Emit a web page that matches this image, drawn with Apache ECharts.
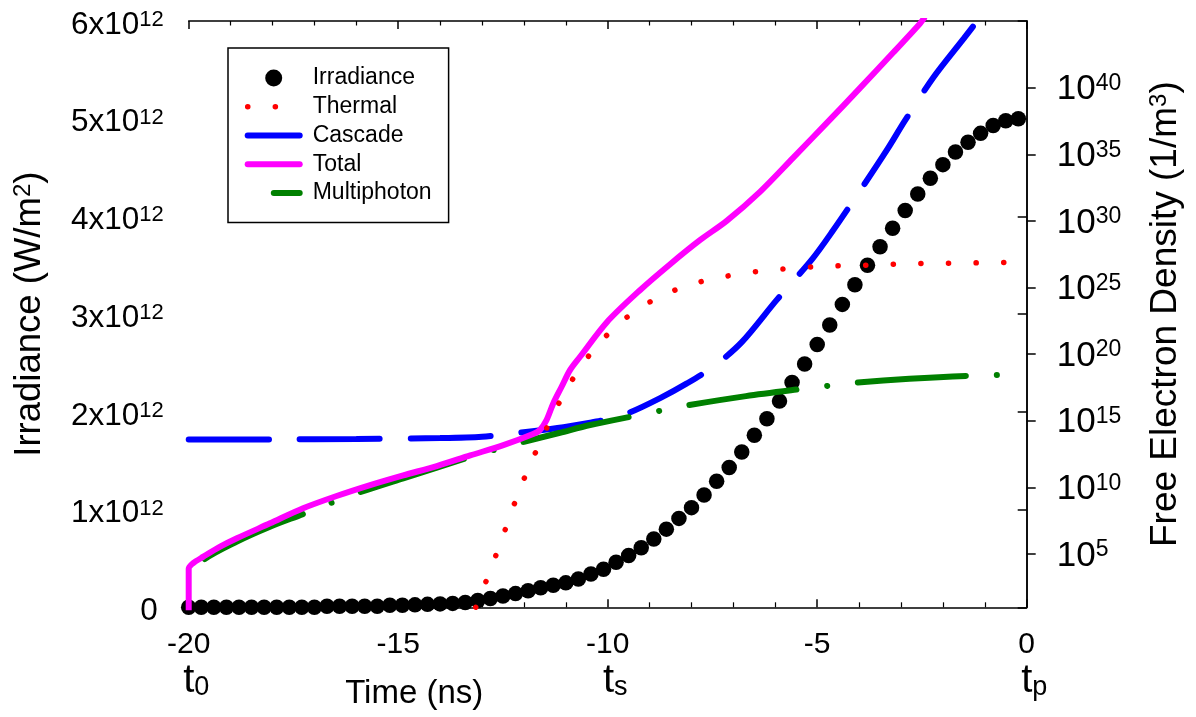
<!DOCTYPE html>
<html>
<head>
<meta charset="utf-8">
<script src="https://cdn.jsdelivr.net/npm/echarts@6/dist/echarts.min.js"></script>
<style>
  html, body { margin: 0; padding: 0; background: #fff; }
  #chart { width: 1196px; height: 717px; }
</style>
</head>
<body>
<div id="chart"></div>
<script>
// Series legend order
const seriesNames = ['Irradiance', 'Thermal', 'Cascade', 'Total', 'Multiphoton'];

// Irradiance samples in units of 10^12 W/m^2, taken every 0.3 ns from -20 ns
const irradianceStart = -20;
const irradianceStep = 0.3;
const irradiance = [
  0.00, 0.00, 0.00, 0.00, 0.00, 0.00, 0.00, 0.00, 0.00, 0.00,
  0.00, 0.01, 0.01, 0.01, 0.01, 0.01, 0.02, 0.02, 0.025, 0.03,
  0.035, 0.04, 0.05, 0.07, 0.09, 0.115, 0.14, 0.17, 0.20, 0.225,
  0.25, 0.29, 0.34, 0.39, 0.46, 0.53, 0.61, 0.70, 0.80, 0.91,
  1.02, 1.15, 1.29, 1.43, 1.59, 1.76, 1.93, 2.11, 2.30, 2.49,
  2.69, 2.89, 3.10, 3.30, 3.50, 3.69, 3.88, 4.06, 4.23, 4.39,
  4.53, 4.66, 4.76, 4.85, 4.93, 4.98, 5.00
];

// Free electron density curves: [time (ns), log10 of density in 1/m^3]
const thermal = [
  [-13.15, 1.0], [-12.86, 3.3], [-12.61, 5.4], [-12.37, 7.5], [-12.13, 9.6],
  [-11.86, 11.65], [-11.55, 13.8], [-11.25, 15.8], [-10.88, 17.9], [-10.42, 20.0],
  [-9.80, 22.1], [-9.14, 23.65], [-8.48, 24.7], [-7.82, 25.4], [-7.16, 25.85],
  [-6.49, 26.18], [-5.83, 26.38], [-5.16, 26.53], [-4.50, 26.63], [-3.83, 26.68],
  [-3.17, 26.75], [-2.51, 26.8], [-1.85, 26.82], [-1.18, 26.85], [-0.52, 26.88], [0, 26.9]
];
const cascade = [
  [-20, 13.6], [-18, 13.6], [-16, 13.63], [-14, 13.7], [-13, 13.8], [-12.1, 14.1],
  [-11.2, 14.45], [-10.42, 14.85], [-10.1, 15.05], [-9.47, 15.63], [-8.76, 16.68],
  [-8.11, 17.8], [-7.46, 19.1], [-6.8, 20.9], [-5.97, 24.05], [-5.12, 27.13],
  [-4.64, 29.2], [-3.97, 32.3], [-3.32, 35.4], [-2.91, 37.5], [-2.22, 40.8],
  [-1.5, 43.7], [-1.18, 45.0]
];
const total = [
  [-20, 0], [-20, 3.9], [-19.9, 4.3], [-19.65, 4.8], [-19.25, 5.55], [-18.85, 6.18],
  [-18.06, 7.3], [-17.27, 8.43], [-16.47, 9.35], [-15.67, 10.17], [-14.88, 10.9],
  [-14.08, 11.6], [-13.28, 12.4], [-12.49, 13.17], [-11.78, 14.0], [-11.62, 14.3],
  [-11.46, 15.05], [-11.3, 16.3], [-11.1, 17.55], [-10.9, 18.8], [-10.66, 19.8],
  [-10.02, 22.4], [-9.23, 24.8], [-8.51, 26.75], [-7.8, 28.55], [-7.16, 30.0],
  [-6.36, 32.2], [-5.57, 34.75], [-4.77, 37.35], [-3.97, 40.0], [-3.18, 42.65], [-2.55, 44.8],
  [-2.45, 45.2]
];
const multiphoton = [
  [-20, 3.1], [-19.93, 3.42], [-19.65, 4.55], [-18.86, 5.92], [-18.06, 7.05],
  [-17.27, 8.0], [-16.63, 8.8], [-15.99, 9.55], [-14.88, 10.68], [-13.31, 12.25],
  [-12.67, 12.85], [-12.0, 13.42], [-11.14, 14.1], [-10.42, 14.68], [-9.35, 15.37],
  [-8.70, 15.78], [-8.05, 16.18], [-6.7, 16.85], [-5.39, 17.38], [-4.74, 17.62],
  [-4.09, 17.85], [-2.8, 18.15], [-1.43, 18.37], [0, 18.48]
];

// Axis ticks
const timeMarkers = { '-20': '0', '-10': 's', '0': 'p' };   // t0, ts, tp under the time ticks
const densityExponents = [5, 10, 15, 20, 25, 30, 35, 40];

const FONT = '"Liberation Sans", Arial, Helvetica, sans-serif';
const AXIS_COLOR = '#000';

const irradiancePoints = irradiance.map((v, i) =>
  [+(irradianceStart + i * irradianceStep).toFixed(1), v]);

const chart = echarts.init(document.getElementById('chart'), null, { renderer: 'canvas' });

const frameLine = { show: true, lineStyle: { color: AXIS_COLOR, width: 1.5 } };
const txt = extra => Object.assign({ fontFamily: FONT, color: '#000' }, extra);

// line series show only their stroke in the legend
const legendData = seriesNames.map(name =>
  name === 'Irradiance' ? { name } : { name, itemStyle: { opacity: 0 } });

chart.setOption({
  backgroundColor: '#fff',
  animation: false,
  textStyle: { fontFamily: FONT, color: '#000' },
  grid: {
    left: 188.7, right: 169.3, top: 21, bottom: 109.7,
    containLabel: false, outerBoundsMode: 'none'
  },
  legend: {
    data: legendData,
    orient: 'vertical',
    left: 228, top: 48,
    padding: [18.5, 17, 18, 16.7],
    itemWidth: 52, itemHeight: 17, itemGap: 5.75,
    borderColor: '#000', borderWidth: 1.5, backgroundColor: '#fff',
    selectedMode: false,
    lineStyle: { width: 'inherit' },
    textStyle: txt({ fontSize: 23, lineHeight: 23, padding: [0, 0, 0, 8] })
  },
  xAxis: [
    {
      type: 'value', position: 'bottom', min: -20, max: 0, interval: 5,
      axisLine: frameLine,
      axisTick: { show: true, inside: true, length: 8, lineStyle: { color: AXIS_COLOR, width: 1.5 } },
      minorTick: { show: true, splitNumber: 5, length: 5, lineStyle: { color: AXIS_COLOR, width: 1.2 } },
      splitLine: { show: false },
      axisLabel: {
        margin: 20,
        color: '#000', fontFamily: FONT,
        formatter: v => {
          const sub = timeMarkers[String(v)];
          let s = '{v|' + v + '}';
          if (sub !== undefined) s += '\n{sp|}{t|t}{sub|' + sub + '}';
          return s;
        },
        rich: {
          v: txt({ fontSize: 30, lineHeight: 34 }),
          sp: { width: 15 },
          t: txt({ fontSize: 40, lineHeight: 40, verticalAlign: 'top' }),
          sub: txt({ fontSize: 27, lineHeight: 27, padding: [21, 0, 0, 0], verticalAlign: 'bottom' })
        }
      },
      name: 'Time (ns)',
      nameLocation: 'middle',
      nameGap: 70,
      nameMoveOverlap: false,
      nameTextStyle: txt({ fontSize: 33, padding: [0, 387, 0, 0] })
    },
    {
      type: 'value', position: 'top', min: -20, max: 0, interval: 5,
      axisLine: frameLine,
      axisTick: { show: true, inside: true, length: 8, lineStyle: { color: AXIS_COLOR, width: 1.5 } },
      minorTick: { show: true, splitNumber: 5, length: 4.5, lineStyle: { color: AXIS_COLOR, width: 1.2 } },
      splitLine: { show: false },
      axisLabel: { show: false }
    }
  ],
  yAxis: [
    {
      type: 'value', position: 'left', min: 0, max: 6, interval: 1,
      axisLine: frameLine,
      axisTick: { show: true, inside: false, length: 9, lineStyle: { color: AXIS_COLOR, width: 1.5 } },
      splitLine: { show: false },
      axisLabel: {
        margin: 25,
        padding: [8, 0, 0, 0],
        formatter: v => v === 0 ? '{z|0}' : '{b|' + v + 'x10}{s|12}',
        rich: {
          z: txt({ fontSize: 31.5, lineHeight: 32, padding: [0, 6, 0, 0] }),
          b: txt({ fontSize: 31.5, lineHeight: 32 }),
          s: txt({ fontSize: 22, lineHeight: 20, verticalAlign: 'top' })
        }
      },
      name: 'Irradiance (W/m{s|2})',
      nameLocation: 'middle',
      nameGap: 140,
      nameMoveOverlap: false,
      nameTextStyle: txt({
        fontSize: 36.5,
        rich: { s: txt({ fontSize: 24, lineHeight: 24, verticalAlign: 'top' }) }
      })
    },
    {
      type: 'value', position: 'right', min: 1, max: 45,
      axisLine: frameLine,
      axisTick: { show: true, inside: false, length: 9, customValues: densityExponents,
                  lineStyle: { color: AXIS_COLOR, width: 1.5 } },
      splitLine: { show: false },
      axisLabel: {
        margin: 30,
        padding: [4, 0, 0, 0],
        customValues: densityExponents,
        formatter: v => '{b|10}{s|' + v + '}',
        rich: {
          b: txt({ fontSize: 35, lineHeight: 35 }),
          s: txt({ fontSize: 23, lineHeight: 23, verticalAlign: 'top' })
        }
      },
      name: 'Free Electron Density (1/m{s|3})',
      nameLocation: 'middle',
      nameGap: 121,
      nameMoveOverlap: false,
      nameTextStyle: txt({
        fontSize: 37,
        rich: { s: txt({ fontSize: 24, lineHeight: 24, verticalAlign: 'top' }) }
      })
    }
  ],
  series: [
    {
      name: 'Irradiance', type: 'scatter', xAxisIndex: 0, yAxisIndex: 0,
      data: irradiancePoints, symbol: 'circle', symbolSize: 15.5,
      itemStyle: { color: '#000', opacity: 1 }, z: 2
    },
    {
      name: 'Thermal', type: 'line', xAxisIndex: 0, yAxisIndex: 1,
      data: thermal, symbol: 'none', smooth: 0.3, clip: true,
      lineStyle: { color: '#ff0000', width: 5.5, type: [0.1, 27.5], cap: 'round' },
      itemStyle: { color: '#ff0000' }, z: 6
    },
    {
      name: 'Cascade', type: 'line', xAxisIndex: 0, yAxisIndex: 1,
      data: cascade, symbol: 'none', smooth: 0.3, clip: true,
      lineStyle: { color: '#0000ff', width: 6, type: [80, 31], cap: 'round' },
      itemStyle: { color: '#0000ff' }, z: 3
    },
    {
      name: 'Total', type: 'line', xAxisIndex: 0, yAxisIndex: 1,
      data: total, symbol: 'none', smooth: 0.3, clip: true,
      lineStyle: { color: '#ff00ff', width: 6, cap: 'round', join: 'round' },
      itemStyle: { color: '#ff00ff' }, z: 5
    },
    {
      name: 'Multiphoton', type: 'line', xAxisIndex: 0, yAxisIndex: 1,
      data: multiphoton, symbol: 'none', smooth: 0.3, clip: true,
      lineStyle: { color: '#008000', width: 6, type: [108, 31, 0.1, 31], dashOffset: 144, cap: 'round' },
      itemStyle: { color: '#008000' }, z: 4
    }
  ]
});
</script>
</body>
</html>
